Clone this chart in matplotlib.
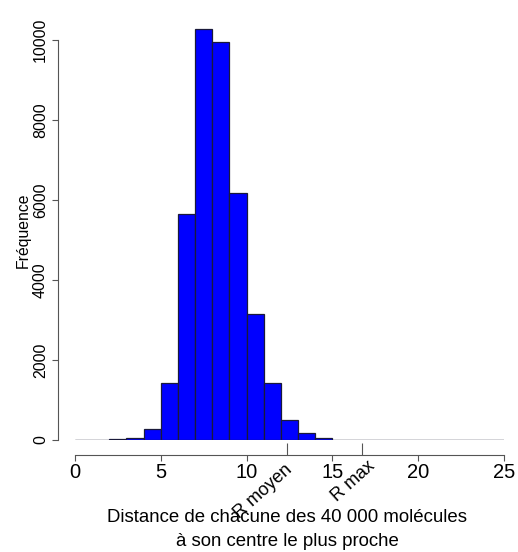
import numpy as np
import matplotlib
matplotlib.use("Agg")
import matplotlib.pyplot as plt

plt.rcParams['font.family'] = ['Liberation Sans', 'DejaVu Sans']

# histogram of nearest-centre distances, bins of width 1 from 0 to 25
edges = np.arange(0, 26)
counts = [0, 0, 15, 50, 274, 1414, 5636, 10267, 9950, 6167, 3159, 1414, 499,
          183, 40, 5, 0, 0, 0, 0, 0, 0, 0, 0, 0]
xticks = [0, 5, 10, 15, 20, 25]
yticks = [0, 2000, 4000, 6000, 8000, 10000]
marks = [12.33, 16.70]
mark_labels = ["R moyen", "R max"]
mark_offsets = [(2.5, -19.5), (8, -17)]

W, H = 518, 552
fig = plt.figure(figsize=(W / 100, H / 100), dpi=100)
ax = fig.add_axes([75 / W, (H - 440) / H, 429 / W, 420.3 / H])

# zero-height bins show up as a thin line along the baseline
ax.plot([edges[0], edges[-1]], [0, 0], color='#888888', lw=0.9, zorder=1)
ax.bar(edges[:-1], counts, width=1, align='edge', color='#0000ff',
       edgecolor='#1a1a3a', linewidth=0.9, zorder=2)

ax.set_xlim(0, 25)
ax.set_ylim(0, 10500)

for s in ['top', 'right']:
    ax.spines[s].set_visible(False)
ax.spines['left'].set_position(('outward', 12))
ax.spines['bottom'].set_position(('outward', 10.8))
ax.spines['left'].set_bounds(0, 10000)
ax.spines['bottom'].set_bounds(0, 25)
for s in ['left', 'bottom']:
    ax.spines[s].set_color('#555555')
    ax.spines[s].set_linewidth(0.8)

ax.set_xticks(xticks)
ax.set_xticklabels([str(v) for v in xticks], fontsize=14.5)
ax.set_yticks(yticks)
ax.set_yticklabels([str(v) for v in yticks], fontsize=11.5, rotation=90,
                   va='center')
ax.tick_params(axis='both', which='major', direction='out', length=4.5,
               width=0.8, color='#555555', pad=1)
ax.tick_params(axis='y', pad=3)

ax.set_xticks(marks, minor=True)
ax.tick_params(axis='x', which='minor', direction='in', length=8.6,
               width=0.8, color='#555555', labelbottom=False)

for xm, lab, off in zip(marks, mark_labels, mark_offsets):
    ax.annotate(lab, xy=(xm, 0), xycoords=('data', 'axes fraction'),
                xytext=off, textcoords='offset points',
                ha='right', va='center', rotation=42,
                rotation_mode='anchor', fontsize=13)

fig.text(287 / W, 1 - 517 / H, "Distance de chacune des 40 000 molécules",
         ha='center', va='center', fontsize=13.4)
fig.text(287 / W, 1 - 542 / H, "à son centre le plus proche",
         ha='center', va='center', fontsize=13.4)
fig.text(23 / W, 1 - 230 / H, "Fréquence", ha='center', va='center',
         rotation=90, fontsize=11.3)

fig.savefig("out.png", dpi=100)
